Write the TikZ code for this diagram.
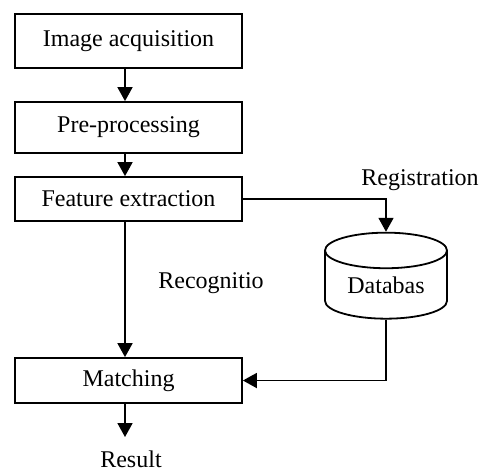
\documentclass[tikz,border=0pt]{standalone}
\usepackage{fontspec}
\setmainfont{Liberation Serif}
\usetikzlibrary{arrows.meta,shapes.geometric}

\begin{document}
\begin{tikzpicture}[x=0.5pt,y=-0.5pt,
  line width=0.9pt,
  font=\fontsize{12}{14}\selectfont,
  proc node/.style={rectangle,draw,minimum width=113.5pt,inner sep=0pt},
  db node/.style={cylinder,draw,shape border rotate=90,aspect=0.46,
    minimum width=61pt,minimum height=43pt,inner sep=0pt},
  flow/.style={-{Triangle[length=7pt,width=7.5pt]}}]

  \useasboundingbox (0,0) rectangle (486,473);

  \node[proc node,minimum height=27pt] (img) at (128.5,41) {Image acquisition};
  \node[proc node,minimum height=25.5pt] (pre) at (128.5,127.5) {Pre-processing};
  \node[proc node,minimum height=22pt] (feat) at (128.5,199) {Feature extraction};
  \node[proc node,minimum height=22.5pt] (match) at (128.5,380.5) {Matching};
  \node[db node] (db) at (386,285) {Databas};

  \node (reg) at (420,180) {Registration};
  \node (rec) at (211,283) {Recognitio};
  \node (res) at (131,459) {Result};
  \coordinate (out) at (125,437);

  \draw[flow] (img.south -| 125,0) -- (pre.north -| 125,0);
  \draw[flow] (pre.south -| 125,0) -- (feat.north -| 125,0);
  \draw[flow] (feat.south -| 125,0) -- (match.north -| 125,0);
  \draw[flow] (feat.east) -| (db.north);
  \draw[flow] (db.south) |- (match.east);
  \draw[flow] (match.south -| 125,0) -- (out);
\end{tikzpicture}
\end{document}
